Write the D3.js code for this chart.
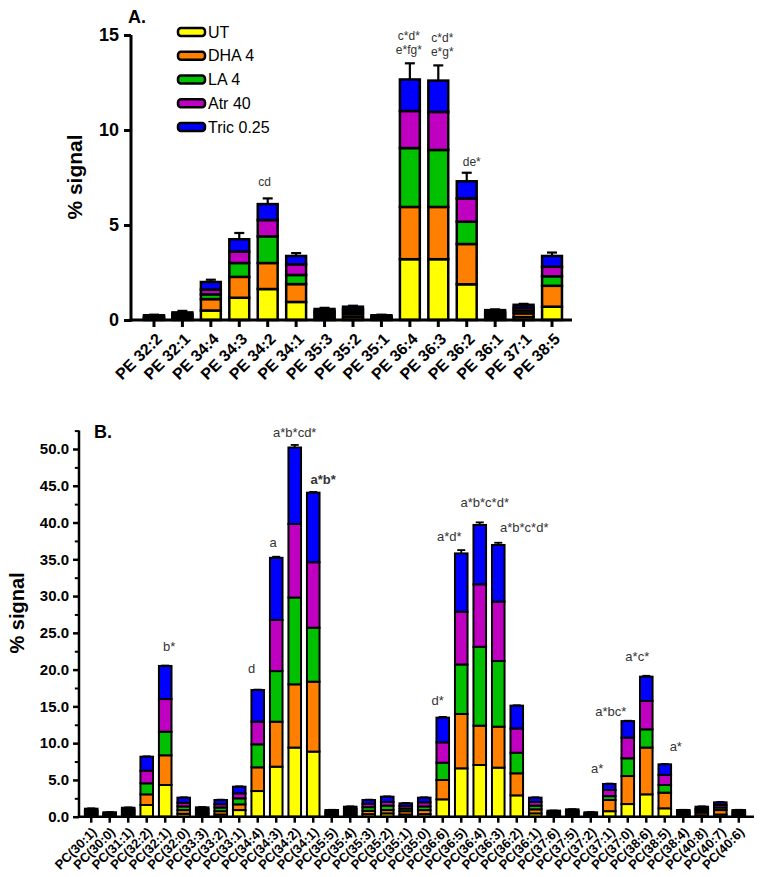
<!DOCTYPE html>
<html><head><meta charset="utf-8">
<script src="https://cdn.jsdelivr.net/npm/d3@7"></script>
<style>body{margin:0;background:#fff}svg{display:block}text{font-family:"Liberation Sans",Arial,sans-serif}</style>
</head><body><svg id="c" width="762" height="877"></svg>
<script>
// ---------- DATA ----------
const seriesNames = ["UT", "DHA 4", "LA 4", "Atr 40", "Tric 0.25"];
const seriesColors = ["#FFFF00", "#FF8000", "#00C000", "#C000C0", "#0000FF"];

// Panel A (PE species)
const catsA = ["PE 32:2","PE 32:1","PE 34:4","PE 34:3","PE 34:2","PE 34:1","PE 35:3","PE 35:2","PE 35:1","PE 36:4","PE 36:3","PE 36:2","PE 36:1","PE 37:1","PE 38:5"];
const utA   = [0.05,0.08,0.50,1.17,1.63,0.95,0.12,0.15,0.05,3.20,3.20,1.88,0.10,0.15,0.70];
const dhaA  = [0.05,0.08,0.60,1.10,1.37,0.94,0.12,0.15,0.05,2.75,2.75,2.12,0.10,0.20,1.10];
const laA   = [0.05,0.08,0.25,0.73,1.40,0.48,0.11,0.13,0.05,3.10,3.00,1.17,0.11,0.15,0.50];
const atrA  = [0.05,0.08,0.25,0.60,0.86,0.56,0.11,0.13,0.05,1.95,2.00,1.23,0.11,0.15,0.50];
const tricA = [0.05,0.08,0.40,0.65,0.84,0.44,0.12,0.14,0.05,1.66,1.65,0.90,0.10,0.15,0.57];
const semA  = [0.03,0.08,0.12,0.33,0.30,0.15,0.06,0.05,0.03,0.85,0.80,0.45,0.04,0.05,0.18];
const ticksA = [0, 5, 10, 15];
const notesA = [
  {cat:"PE 34:2", lines:["cd"]},
  {cat:"PE 36:4", lines:["c*d*","e*fg*"]},
  {cat:"PE 36:3", lines:["c*d*","e*g*"]},
  {cat:"PE 36:2", lines:["de*"]}
];

// Panel B (PC species)
const catsB = ["PC(30:1)","PC(30:0)","PC(31:1)","PC(32:2)","PC(32:1)","PC(32:0)","PC(33:3)","PC(33:2)","PC(33:1)","PC(34:4)","PC(34:3)","PC(34:2)","PC(34:1)","PC(35:5)","PC(35:4)","PC(35:3)","PC(35:2)","PC(35:1)","PC(35:0)","PC(36:6)","PC(36:5)","PC(36:4)","PC(36:3)","PC(36:2)","PC(36:1)","PC(37:6)","PC(37:5)","PC(37:2)","PC(37:1)","PC(37:0)","PC(38:6)","PC(38:5)","PC(38:4)","PC(40:8)","PC(40:7)","PC(40:6)"];
const utB   = [0.20,0.10,0.25,1.59,4.31,0.40,0.25,0.30,0.90,3.49,6.80,9.40,8.85,0.18,0.27,0.35,0.45,0.30,0.35,2.36,6.58,7.03,6.67,2.90,0.45,0.16,0.20,0.12,0.75,1.72,3.04,1.14,0.18,0.20,0.30,0.18];
const dhaB  = [0.25,0.15,0.25,1.45,4.04,0.50,0.26,0.45,0.78,3.22,6.12,8.60,9.51,0.18,0.27,0.45,0.45,0.45,0.55,2.63,7.39,5.35,5.57,3.00,0.55,0.16,0.20,0.12,1.52,3.81,6.36,2.13,0.18,0.35,0.60,0.18];
const laB   = [0.20,0.12,0.25,1.50,3.21,0.50,0.25,0.50,0.82,3.13,6.88,11.80,7.34,0.18,0.27,0.50,0.60,0.35,0.50,2.35,6.73,10.72,8.93,2.80,0.50,0.16,0.20,0.12,0.53,2.41,2.48,1.04,0.18,0.27,0.35,0.18];
const atrB  = [0.20,0.12,0.22,1.72,4.44,0.50,0.25,0.45,0.68,3.08,6.95,10.00,8.90,0.18,0.27,0.45,0.50,0.35,0.55,2.77,7.18,8.50,8.07,3.30,0.50,0.17,0.20,0.12,0.83,2.81,3.85,1.36,0.18,0.27,0.35,0.18];
const tricB = [0.24,0.11,0.25,1.90,4.50,0.69,0.26,0.57,0.90,4.31,8.45,10.40,9.46,0.19,0.28,0.52,0.72,0.37,0.64,3.36,7.92,8.07,7.71,3.10,0.59,0.17,0.20,0.12,0.82,2.25,3.31,1.45,0.19,0.27,0.35,0.19];
const semB  = [0.05,0.03,0.05,0.05,0.05,0.05,0.05,0.05,0.05,0.05,0.15,0.35,0.10,0.03,0.05,0.05,0.05,0.05,0.05,0.10,0.45,0.35,0.30,0.05,0.05,0.03,0.03,0.03,0.05,0.05,0.12,0.05,0.03,0.05,0.05,0.03];
const ticksB = [0,5,10,15,20,25,30,35,40,45,50];
const notesB = [
  {cat:"PC(32:1)", lines:["b*"]},
  {cat:"PC(34:4)", lines:["d"]},
  {cat:"PC(34:3)", lines:["a"]},
  {cat:"PC(34:2)", lines:["a*b*cd*"]},
  {cat:"PC(34:1)", lines:["a*b*"], bold:true},
  {cat:"PC(36:6)", lines:["d*"]},
  {cat:"PC(36:5)", lines:["a*d*"]},
  {cat:"PC(36:4)", lines:["a*b*c*d*"]},
  {cat:"PC(36:3)", lines:["a*b*c*d*"]},
  {cat:"PC(37:1)", lines:["a*"]},
  {cat:"PC(37:0)", lines:["a*bc*"]},
  {cat:"PC(38:6)", lines:["a*c*"]},
  {cat:"PC(38:5)", lines:["a*"]}
];

// ---------- LAYOUT (positions only) ----------
const noteOffA = {"PE 34:2":[-3,-12], "PE 36:4":[-1,-9], "PE 36:3":[4,-9], "PE 36:2":[5,-7]};
const noteOffB = {"PC(32:1)":[4,-15],"PC(34:4)":[-6,-17],"PC(34:3)":[-3,-10],"PC(34:2)":[0,-8],"PC(34:1)":[10,-8],
  "PC(36:6)":[-5,-12],"PC(36:5)":[-12,-9],"PC(36:4)":[5,-15],"PC(36:3)":[26,-11],"PC(37:1)":[-12,-11],
  "PC(37:0)":[-17,-5],"PC(38:6)":[-9,-15],"PC(38:5)":[11,-13]};

const svg = d3.select("#c");

function panel(o) {
  const rows = o.cats.map((c, i) => {
    const r = {cat: c, sem: o.sem[i]};
    o.series.forEach((s, k) => r[seriesNames[k]] = s[i]);
    return r;
  });
  const stack = d3.stack().keys(seriesNames)(rows);
  const x = d3.scaleBand().domain(o.cats).range(o.xr).padding(o.pad);
  const y = d3.scaleLinear().domain(o.yd).range(o.yr);
  const g = svg.append("g");

  stack.forEach((layer, k) => {
    g.append("g").selectAll("rect").data(layer).join("rect")
      .attr("x", d => x(d.data.cat))
      .attr("width", x.bandwidth())
      .attr("y", d => y(d[1]))
      .attr("height", d => y(d[0]) - y(d[1]))
      .attr("fill", seriesColors[k])
      .attr("stroke", "#000").attr("stroke-width", o.bsw);
  });
  const top = rows.map(r => d3.sum(seriesNames, s => r[s]));
  const eg = g.append("g").attr("stroke", "#000").attr("stroke-width", o.esw);
  rows.forEach((r, i) => {
    const cx = x(r.cat) + x.bandwidth() / 2;
    eg.append("line").attr("x1", cx).attr("x2", cx).attr("y1", y(top[i])).attr("y2", y(top[i] + r.sem));
    eg.append("line").attr("x1", cx - o.cap).attr("x2", cx + o.cap).attr("y1", y(top[i] + r.sem)).attr("y2", y(top[i] + r.sem));
  });

  const ya = g.append("g").attr("transform", `translate(${o.ax},0)`)
    .call(d3.axisLeft(y).tickValues(o.ticks).tickFormat(o.fmt).tickSize(o.tick).tickPadding(o.tpad).tickSizeOuter(0));
  ya.select(".domain").remove();
  ya.selectAll(".tick line").attr("stroke-width", o.asw);
  ya.selectAll("text").attr("font-size", o.tfs).attr("font-weight", "bold").attr("fill", "#000");
  if (o.minor) {
    g.append("g").attr("transform", `translate(${o.ax},0)`)
      .call(d3.axisLeft(y).tickValues(o.minor).tickFormat("").tickSize(o.tick * 0.7).tickSizeOuter(0))
      .call(a => { a.select(".domain").remove(); a.selectAll("line").attr("stroke-width", o.asw * 0.8); });
  }
  g.append("line").attr("x1", o.ax).attr("x2", o.ax).attr("y1", y(o.yd[1])).attr("y2", y(0) + o.asw / 2)
    .attr("stroke", "#000").attr("stroke-width", o.asw);
  const xa = g.append("g").attr("transform", `translate(0,${y(0)})`)
    .call(d3.axisBottom(x).tickSize(o.tick).tickSizeOuter(0).tickFormat(""));
  xa.select(".domain").remove();
  xa.selectAll(".tick line").attr("stroke-width", o.asw);
  g.append("line").attr("x1", o.ax - o.asw / 2).attr("x2", o.xend).attr("y1", y(0)).attr("y2", y(0))
    .attr("stroke", "#000").attr("stroke-width", o.asw);
  g.append("g").selectAll("text").data(o.cats).join("text")
    .attr("transform", d => `translate(${x(d) + x.bandwidth() / 2 + o.lx},${y(0) + o.ly}) rotate(-45)`)
    .attr("text-anchor", "end").attr("dy", "0.35em")
    .attr("font-size", o.lfs).attr("font-weight", "bold").text(d => d);
  g.append("text").attr("transform", `translate(${o.titleX},${o.titleY}) rotate(-90)`)
    .attr("text-anchor", "middle").attr("dy", "0.35em")
    .attr("font-size", o.titleFs).attr("font-weight", "bold").text("% signal");
  g.append("text").attr("x", o.letter[0]).attr("y", o.letter[1]).attr("font-size", 18).attr("font-weight", "bold").text(o.letterText);
  o.notes.forEach(n => {
    const i = o.cats.indexOf(n.cat);
    const off = o.noteOff[n.cat];
    const cx = x(n.cat) + x.bandwidth() / 2 + off[0];
    const base = y(top[i] + rows[i].sem) + off[1];
    n.lines.forEach((l, j) => {
      g.append("text").attr("x", cx).attr("y", base - (n.lines.length - 1 - j) * o.nlh)
        .attr("text-anchor", "middle").attr("font-size", o.nfs).attr("fill", "#333")
        .attr("font-weight", n.bold ? "bold" : "normal").text(l);
    });
  });
  return g;
}

panel({cats: catsA, series: [utA, dhaA, laA, atrA, tricA], sem: semA,
  xr: [135.5, 570.5], pad: 0.3, yd: [0, 15], yr: [320, 35], ax: 131, xend: 572,
  ticks: ticksA, fmt: d3.format("d"), tick: 7, tpad: 5, tfs: 18, asw: 3, bsw: 2.5, esw: 2.2, cap: 5,
  lx: 5, ly: 16, lfs: 16, titleX: 75, titleY: 177, titleFs: 21, letter: [128, 23], letterText: "A.",
  notes: notesA, noteOff: noteOffA, nfs: 12, nlh: 14});

panel({cats: catsB, series: [utB, dhaB, laB, atrB, tricB], sem: semB,
  xr: [79, 751], pad: 0.32, yd: [0, 52.5], yr: [816.7, 430.6], ax: 79, xend: 754,
  ticks: ticksB, minor: [2.5,7.5,12.5,17.5,22.5,27.5,32.5,37.5,42.5,47.5,52.5], fmt: d3.format(".1f"),
  tick: 6, tpad: 4, tfs: 15, asw: 2.5, bsw: 2, esw: 1.8, cap: 4,
  lx: 3, ly: 13, lfs: 13, titleX: 17, titleY: 613, titleFs: 20, letter: [94, 438], letterText: "B.",
  notes: notesB, noteOff: noteOffB, nfs: 13, nlh: 15});

const lg = svg.append("g");
seriesNames.forEach((s, k) => {
  const yy = 32 + k * 23.75;
  lg.append("rect").attr("x", 178).attr("y", yy - 4).attr("width", 27).attr("height", 8).attr("rx", 3)
    .attr("fill", seriesColors[k]).attr("stroke", "#000").attr("stroke-width", 2.5);
  lg.append("text").attr("x", 208).attr("y", yy).attr("dy", "0.35em").attr("font-size", 16).text(s);
});
</script></body></html>
